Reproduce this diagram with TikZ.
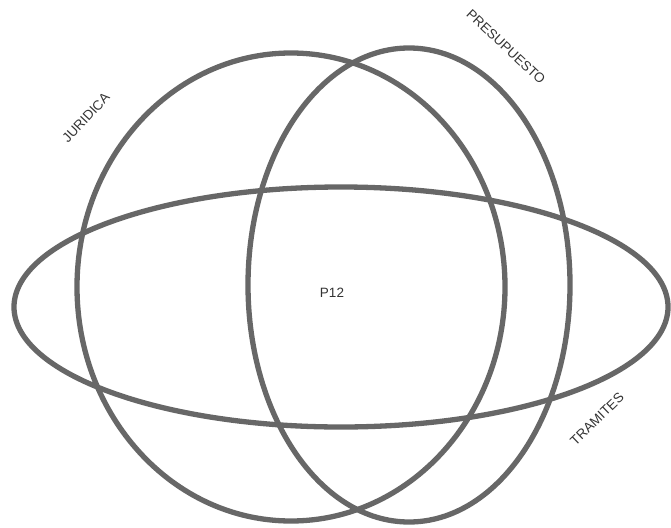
\documentclass[tikz,border=0pt]{standalone}
\usepackage{fontspec}
\setmainfont{Liberation Sans}
\definecolor{ringgray}{HTML}{676767}
\definecolor{labelgray}{HTML}{333333}
\begin{document}
\begin{tikzpicture}[x=1pt,y=-1pt,
  ring/.style={draw=ringgray,line width=5.3pt},
  lbl/.style={text=labelgray,font=\fontsize{13.5}{15}\selectfont,inner sep=0pt}]
\useasboundingbox (0,0) rectangle (671,527);
\draw[ring] (291,287) ellipse [x radius=214, y radius=234];
\draw[ring] (409,285) ellipse [x radius=161, y radius=237];
\draw[ring] (341,307) ellipse [x radius=327, y radius=120];
\node[lbl,rotate=47] (juridica) at (86,118) {JURIDICA};
\node[lbl,rotate=-43] (presupuesto) at (506,47) {PRESUPUESTO};
\node[lbl,rotate=44] (tramites) at (597,419) {TRAMITES};
\node[lbl] (p12) at (332,293) {P12};
\end{tikzpicture}
\end{document}
